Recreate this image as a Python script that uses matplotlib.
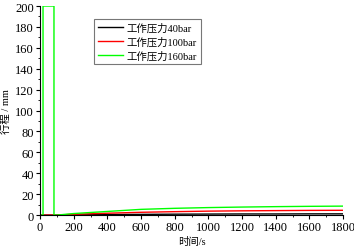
import matplotlib
matplotlib.use("Agg")
import matplotlib.pyplot as plt
from matplotlib.ticker import MultipleLocator

plt.rcParams['font.family'] = ['Liberation Serif', 'Noto Sans CJK SC']
plt.rcParams['axes.unicode_minus'] = False

# data
t_40 = [0, 100, 200, 400, 600, 800, 1000, 1200, 1400, 1600, 1800]
s_40 = [0, 0, 0.2, 0.5, 0.7, 0.9, 1.0, 1.1, 1.1, 1.2, 1.2]
t_100 = [0, 100, 200, 400, 600, 800, 1000, 1200, 1400, 1600, 1800]
s_100 = [0, 0, 0.8, 1.8, 2.7, 3.3, 3.8, 4.1, 4.3, 4.5, 4.6]
t_160 = [0, 18, 18, 83, 83, 100, 200, 400, 600, 800, 1000, 1200, 1400, 1600, 1800]
s_160 = [0, 0, 200, 200, 0, 0, 1.5, 3.5, 5.5, 6.5, 7.2, 7.7, 8.1, 8.4, 8.6]
labels = ["工作压力40bar", "工作压力100bar", "工作压力160bar"]

fig = plt.figure(figsize=(3.54, 2.51), dpi=100)
ax = fig.add_axes([0.113, 0.139, 0.856, 0.833])

ax.plot(t_40, s_40, color="black", lw=1, label=labels[0])
ax.plot(t_100, s_100, color="#ff0000", lw=1, label=labels[1])
ax.plot(t_160, s_160, color="#00ff00", lw=1, label=labels[2])

ax.set_xlim(0, 1800)
ax.set_ylim(0, 200)
ax.xaxis.set_major_locator(MultipleLocator(200))
ax.xaxis.set_minor_locator(MultipleLocator(100))
ax.yaxis.set_major_locator(MultipleLocator(20))
ax.yaxis.set_minor_locator(MultipleLocator(10))
ax.tick_params(which="both", direction="out", labelsize=9, pad=1.5)
ax.tick_params(which="major", length=3, width=0.8)
ax.tick_params(which="minor", length=1.5, width=0.6)
ax.spines["top"].set_visible(False)
ax.spines["right"].set_visible(False)

ax.set_xlabel("时间/s", fontsize=7.5, labelpad=2)
ax.set_ylabel("行程 / mm", fontsize=7.5, labelpad=3)

leg = ax.legend(loc="upper left", bbox_to_anchor=(0.178, 0.938), fontsize=7.5,
                frameon=True, fancybox=False, edgecolor="#555555",
                handlelength=2.4, handletextpad=0.4, labelspacing=0.35,
                borderpad=0.35, borderaxespad=0)
leg.get_frame().set_linewidth(0.8)

fig.savefig("out.png", dpi=100)
